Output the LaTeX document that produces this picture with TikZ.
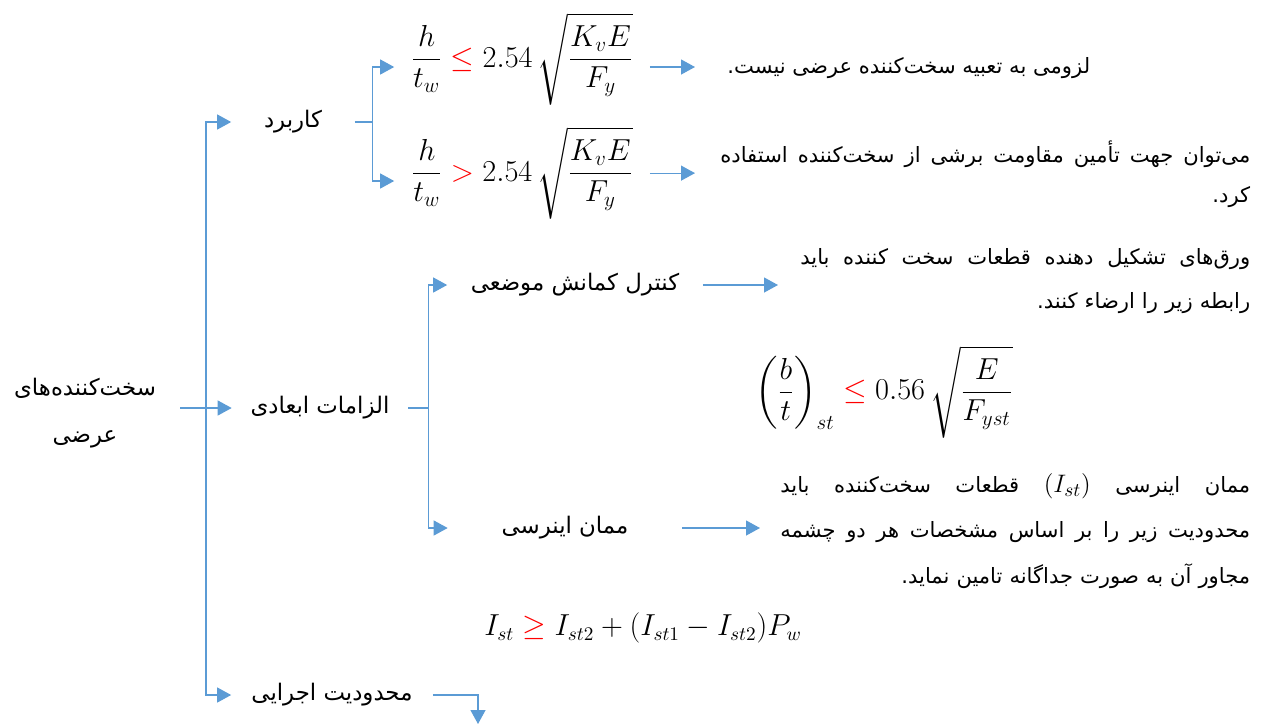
\documentclass[tikz,border=0pt]{standalone}
\usepackage{amsmath}
\usepackage{fontspec}
\newfontfamily\fa[Script=Arabic]{DejaVu Sans}
\TeXXeTstate=1
\usetikzlibrary{arrows.meta,calc,positioning}
\definecolor{Blue}{HTML}{5B9BD5}
\definecolor{Rel}{HTML}{FF0000}
\newcommand{\fullline}[2]{\noindent\hbox to #1{\spaceskip=0.3em plus 1fil minus 0.15em #2}}
\newcommand{\red}[1]{\mathrel{\textcolor{Rel}{#1}}}

\begin{document}
\begin{tikzpicture}[x=0.02cm,y=-0.02cm,
    topic/.style={font=\fa\fontsize{13}{27}\selectfont,inner sep=0pt,minimum height=0.6cm},
    note/.style={font=\fa\fontsize{12}{25}\selectfont,align=right,inner ysep=0pt},
    rel/.style={font=\fontsize{18.5}{23}\selectfont,inner sep=0pt},
    flow/.style={-{Triangle[length=0.28cm,width=0.3cm]},draw=Blue,line width=0.7pt}]
  \useasboundingbox (0,0) rectangle (1267,724);
  % tree labels
  \node[topic,align=center,minimum width=3.8cm] (root) at (85,413)
    {\beginR سخت‌کننده‌های\endR\\\beginR عرضی\endR};
  \node[topic,minimum width=2.46cm] (use) at (293,122) {\beginR کاربرد\endR};
  \node[topic,minimum width=3.52cm] (dims) at (320,408) {\beginR الزامات ابعادی\endR};
  \node[topic,minimum width=4.02cm] (exec) at (332,695) {\beginR محدودیت اجرایی\endR};
  \node[topic,minimum width=5.1cm] (local) at (575,285) {\beginR کنترل کمانش موضعی\endR};
  \node[topic,minimum width=4.68cm] (inertia) at (565,528) {\beginR ممان اینرسی\endR};
  % relations
  \node[rel,minimum width=5.1cm,anchor=base] (le) at (522,67)
    {$\dfrac{h}{t_w}\red{\le}2.54\,\sqrt{\dfrac{K_vE}{F_y}}$};
  \node[rel,minimum width=5.1cm,anchor=base] (gt) at (522,181)
    {$\dfrac{h}{t_w}\red{>}2.54\,\sqrt{\dfrac{K_vE}{F_y}}$};
  \node[rel] (bt) at (884,392)
    {$\left(\dfrac{b}{t}\right)_{st}\red{\le}0.56\,\sqrt{\dfrac{E}{F_{yst}}}$};
  \node[rel,font=\fontsize{16}{20}\selectfont] (ist) at (643,628)
    {$I_{st}\red{\ge}I_{st2}+(I_{st1}-I_{st2})P_w$};
  % notes
  \node[note,anchor=west,inner xsep=0.64cm] (noneed) at (695,68)
    {\beginR لزومی به تعبیه سخت‌کننده عرضی نیست.\endR};
  \node[note,anchor=west,inner xsep=0.5cm,text width=10.6cm,
    font=\fa\fontsize{12}{23}\selectfont] (shear) at (695,174)
    {\fullline{10.6cm}{\beginR می‌توان جهت تأمین مقاومت برشی از سخت‌کننده استفاده\endR}\\
     \beginR کرد.\endR};
  \node[note,anchor=west,inner xsep=0.44cm,text width=9cm] (plates) at (778,281)
    {\fullline{9cm}{\beginR ورق‌های تشکیل دهنده قطعات سخت کننده باید\endR}\\
     \beginR رابطه زیر را ارضاء کنند.\endR};
  \node[note,anchor=west,inner xsep=0.4cm,text width=9.4cm,
    font=\fa\fontsize{12}{26}\selectfont] (limit) at (760,531)
    {\fullline{9.4cm}{\beginR ممان اینرسی \beginL{\fontsize{15}{20}\selectfont$(I_{st})$}\endL{} قطعات سخت‌کننده باید\endR}\\
     \fullline{9.4cm}{\beginR محدودیت زیر را بر اساس مشخصات هر دو چشمه\endR}\\
     \beginR مجاور آن به صورت جداگانه تامین نماید.\endR};
  % connectors
  \coordinate (trunk) at ($(root.east |- dims.west)!0.5!(dims.west)$);
  \coordinate (drop) at (478,724);
  \draw[flow] (root.east |- dims.west) -- (dims.west);
  \draw[flow] (trunk) |- (use.west);
  \draw[flow] (trunk) |- (exec.west);
  \draw[flow] (use.east) -- ++(18,0) |- (le.base west);
  \draw[flow] (use.east) -- ++(18,0) |- (gt.base west);
  \draw[flow] (le.base east) -- (le.base east -| noneed.west);
  \draw[flow] (gt.east) -- (gt.east -| shear.west);
  \draw[flow] (dims.east) -- ++(20,0) |- (local.west);
  \draw[flow] (dims.east) -- ++(20,0) |- (inertia.west);
  \draw[flow] (local.east) -- (local.east -| plates.west);
  \draw[flow] (inertia.east) -- (inertia.east -| limit.west);
  \draw[flow] (exec.east) -| (drop);
\end{tikzpicture}
\end{document}
